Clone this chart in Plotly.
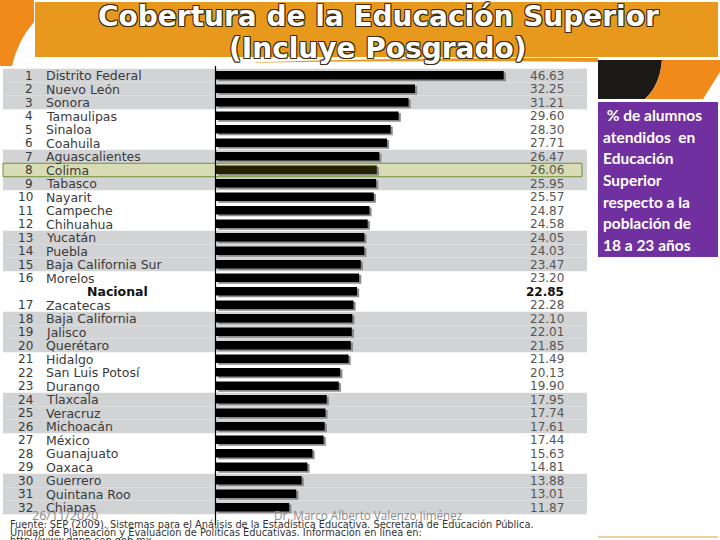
import plotly.graph_objects as go

# ---------------- data ----------------
ranks = ["1", "2", "3", "4", "5", "6", "7", "8", "9", "10", "11", "12", "13", "14",
         "15", "16", "", "17", "18", "19", "20", "21", "22", "23", "24", "25", "26",
         "27", "28", "29", "30", "31", "32"]
states = ["Distrito Federal", "Nuevo León", "Sonora", "Tamaulipas", "Sinaloa", "Coahuila",
          "Aguascalientes", "Colima", "Tabasco", "Nayarit", "Campeche", "Chihuahua",
          "Yucatán", "Puebla", "Baja California Sur", "Morelos", "Nacional", "Zacatecas",
          "Baja California", "Jalisco", "Querétaro", "Hidalgo", "San Luis Potosí", "Durango",
          "Tlaxcala", "Veracruz", "Michoacán", "México", "Guanajuato", "Oaxaca", "Guerrero",
          "Quintana Roo", "Chiapas"]
values = [46.63, 32.25, 31.21, 29.60, 28.30, 27.71, 26.47, 26.06, 25.95, 25.57, 24.87, 24.58,
          24.05, 24.03, 23.47, 23.20, 22.85, 22.28, 22.10, 22.01, 21.85, 21.49, 20.13, 19.90,
          17.95, 17.74, 17.61, 17.44, 15.63, 14.81, 13.88, 13.01, 11.87]
highlight = "Colima"
total_row = "Nacional"

title_1 = "Cobertura de la Educación Superior"
title_2 = "(Incluye Posgrado)"
side_note = [" % de alumnos", "atendidos  en", "Educación", "Superior",
             "respecto a la", "población de", "18 a 23 años"]
footer_date = "26/11/2020"
footer_author = "Dr. Marco Alberto Valenzo Jiménez"
source_lines = [
    "Fuente: SEP (2009). Sistemas para el Análisis de la Estadística Educativa. Secretaría de Educación Pública.",
    "Unidad de Planeación y Evaluación de Políticas Educativas. Información en línea en:",
    "http://www.dgpp.sep.gob.mx",
]

# ---------------- helpers ----------------
W, H = 720, 540
def px(x):
    return x / W
def py(y):
    return 1 - y / H

rows = list(range(len(states)))

fig = go.Figure()

# bar shadow
fig.add_trace(go.Bar(
    x=values, y=rows, orientation="h", base=0.35,
    width=0.64, offset=-0.22,
    marker=dict(color="#8a8a8a", line=dict(width=0)),
    hoverinfo="skip", showlegend=False))
# bars
bar_colors = ["#232100" if s == highlight else "#000000" for s in states]
fig.add_trace(go.Bar(
    x=values, y=rows, orientation="h",
    width=0.64, offset=-0.34,
    marker=dict(color=bar_colors, line=dict(width=0)),
    showlegend=False))

shapes = []
# gray bands
for i in rows:
    if (i // 3) % 2 == 0:
        shapes.append(dict(type="rect", xref="paper", yref="y", x0=px(3), x1=px(587),
                           y0=i - 0.5, y1=i + 0.5, fillcolor="#d2d3d5",
                           line=dict(width=0), layer="below"))
# highlight row
hi = states.index(highlight)
shapes.append(dict(type="rect", xref="paper", yref="y", x0=px(3), x1=px(582),
                   y0=hi - 0.5, y1=hi + 0.5, fillcolor="#d8dcb4",
                   line=dict(width=1, color="#6f8f35"), layer="below"))
# axis line
shapes.append(dict(type="line", xref="paper", yref="paper", x0=px(215.5), x1=px(215.5),
                   y0=py(66), y1=py(525), line=dict(color="#000000", width=1.2)))
# title box
shapes.append(dict(type="rect", xref="paper", yref="paper", x0=px(35), x1=px(718),
                   y0=py(2), y1=py(57), fillcolor="#e6991c", line=dict(width=0)))
# left decoration
shapes.append(dict(type="path", xref="paper", yref="paper",
                   path=f"M {px(0)} {py(0)} L {px(34)} {py(0)} L {px(34)} {py(22)} "
                        f"Q {px(18)} {py(40)} {px(12)} {py(66)} L {px(0)} {py(66)} Z",
                   fillcolor="#f08a1a", line=dict(width=0)))
# top right dark image
shapes.append(dict(type="path", xref="paper", yref="paper",
                   path=f"M {px(598)} {py(60)} L {px(662)} {py(60)} "
                        f"Q {px(660)} {py(85)} {px(645)} {py(99)} L {px(598)} {py(99)} Z",
                   fillcolor="#1c1a16", line=dict(width=0)))
shapes.append(dict(type="path", xref="paper", yref="paper",
                   path=f"M {px(662)} {py(60)} L {px(720)} {py(60)} L {px(720)} {py(72)} "
                        f"L {px(703)} {py(99)} L {px(645)} {py(99)} Q {px(660)} {py(85)} {px(662)} {py(60)} Z",
                   fillcolor="#f08a1a", line=dict(width=0)))
# orange swoosh under title
shapes.append(dict(type="path", xref="paper", yref="paper",
                   path=f"M {px(232)} {py(63)} Q {px(400)} {py(57)} {px(598)} {py(58)} "
                        f"L {px(598)} {py(62)} Q {px(400)} {py(60)} {px(232)} {py(63)} Z",
                   fillcolor="#e8961e", line=dict(width=0)))
# purple note box
shapes.append(dict(type="rect", xref="paper", yref="paper", x0=px(598), x1=px(718),
                   y0=py(102), y1=py(257), fillcolor="#7030a0", line=dict(width=0)))
# bottom right line
shapes.append(dict(type="line", xref="paper", yref="paper", x0=px(598), x1=px(718),
                   y0=py(537), y1=py(537), line=dict(color="#e0a040", width=1.2)))

annotations = []
label_font = "DejaVu Sans"
for i in rows:
    is_total = states[i] == total_row
    if ranks[i]:
        annotations.append(dict(xref="paper", yref="y", x=px(35), y=i, text=ranks[i],
                                xanchor="right", yanchor="middle", showarrow=False,
                                font=dict(family=label_font, size=12, color="#3a3a3a")))
    annotations.append(dict(xref="paper", yref="y", x=px(85) if is_total else px(44), y=i,
                            text=f"<b>{states[i]}</b>" if is_total else states[i],
                            xanchor="left", yanchor="middle", showarrow=False,
                            font=dict(family=label_font, size=12.5,
                                      color="#111111" if is_total else "#3a3a3a")))
    annotations.append(dict(xref="paper", yref="y", x=px(566), y=i,
                            text=f"<b>{values[i]:.2f}</b>" if is_total else f"{values[i]:.2f}",
                            xanchor="right", yanchor="middle", showarrow=False,
                            font=dict(family="DejaVu Sans", size=12,
                                      color="#111111" if is_total else "#555555")))

outline = ("1px 1px 0 #3a2a10, -1px -1px 0 #3a2a10, 1px -1px 0 #3a2a10, "
           "-1px 1px 0 #3a2a10, 0 1px 0 #3a2a10, 0 -1px 0 #3a2a10")
for txt, yc in [(title_1, 17), (title_2, 48)]:
    annotations.append(dict(xref="paper", yref="paper", x=px(378), y=py(yc), text=f"<b>{txt}</b>",
                            xanchor="center", yanchor="middle", showarrow=False,
                            font=dict(family="DejaVu Sans", size=28, color="#ffffff",
                                      shadow=outline)))

for k, line in enumerate(side_note):
    annotations.append(dict(xref="paper", yref="paper", x=px(601), y=py(115 + k * 21.7),
                            text=f"<b>{line}</b>", xanchor="left", yanchor="middle",
                            showarrow=False,
                            font=dict(family="Lato", size=15.5, color="#ffffff")))

annotations.append(dict(xref="paper", yref="paper", x=px(30), y=py(515), text=footer_date,
                        xanchor="left", yanchor="middle", showarrow=False,
                        font=dict(family="Open Sans", size=12.5, color="#8a8a8a")))
annotations.append(dict(xref="paper", yref="paper", x=px(272), y=py(515), text=footer_author,
                        xanchor="left", yanchor="middle", showarrow=False,
                        font=dict(family="Open Sans", size=11.7, color="#8a8a8a")))
for k, line in enumerate(source_lines):
    annotations.append(dict(xref="paper", yref="paper", x=px(8), y=py(524 + k * 8), text=line,
                            xanchor="left", yanchor="middle", showarrow=False,
                            font=dict(family="DejaVu Sans", size=9.8, color="#333333")))

scale = 6.17
origin = 216
fig.update_layout(
    width=W, height=H,
    margin=dict(l=0, r=0, t=0, b=0),
    paper_bgcolor="#ffffff", plot_bgcolor="rgba(0,0,0,0)",
    barmode="overlay",
    xaxis=dict(domain=[0, 1], range=[-origin / scale, (W - origin) / scale],
               visible=False, fixedrange=True),
    yaxis=dict(domain=[0, 1], range=[(H - 75.5) / 13.5, -75.5 / 13.5],
               visible=False, fixedrange=True),
    shapes=shapes, annotations=annotations,
    showlegend=False,
)

fig.write_html("out.html", config={"displayModeBar": False},
               post_script="document.body.style.margin='0';document.body.style.overflow='hidden';")
